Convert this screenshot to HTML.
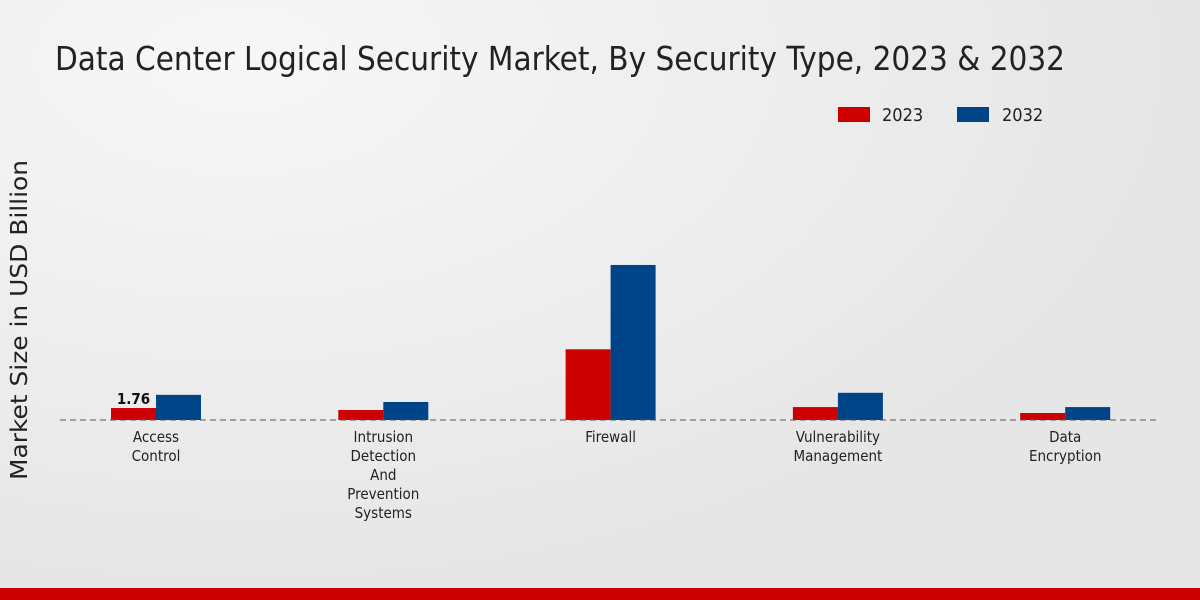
<!DOCTYPE html>
<html><head><meta charset="utf-8"><style>
body{margin:0;width:1200px;height:600px;overflow:hidden;background:radial-gradient(ellipse at 20% 10%,#f7f7f7,#e6e6e6 70%);font-family:"DejaVu Sans Condensed","DejaVu Sans","Liberation Sans",sans-serif;}
svg{position:absolute;left:0;top:0}
</style></head><body>
<svg width="1200" height="600">
<text x="55" y="70" font-size="33" textLength="1010" lengthAdjust="spacingAndGlyphs" fill="#222">Data Center Logical Security Market, By Security Type, 2023 &amp; 2032</text>
<text transform="translate(27,320) rotate(-90)" text-anchor="middle" font-size="23" textLength="320" lengthAdjust="spacingAndGlyphs" fill="#222" style="font-family:'DejaVu Sans',sans-serif">Market Size in USD Billion</text>
<g>
<rect x="838" y="107" width="32" height="15" fill="#cc0000"/>
<text x="882" y="121" font-size="18" fill="#222">2023</text>
<rect x="957" y="107" width="32" height="15" fill="#004488"/>
<text x="1002" y="121" font-size="18" fill="#222">2032</text>
</g>
<g id="plot"></g>
<line x1="60" y1="420" x2="1160" y2="420" stroke="#555" stroke-dasharray="6,4"/>
<rect x="0" y="588" width="1200" height="12" fill="#cc0000"/>
</svg>
<script>
const categories=[["Access","Control"],["Intrusion","Detection","And","Prevention","Systems"],["Firewall"],["Vulnerability","Management"],["Data","Encryption"]];
const values2023=[1.76,1.47,10.4,1.9,1.03];
const values2032=[3.7,2.65,22.8,4.0,1.9];
const baseY=420,pxPer=6.8,x0=156,step=227.3,bw=45;
const y=v=>baseY-v*pxPer;
const g=document.getElementById('plot');
const NS='http://www.w3.org/2000/svg';
categories.forEach((c,i)=>{
  const cx=x0+i*step;
  [[values2023,'#cc0000',-bw,'2023'],[values2032,'#004488',0,'2032']].forEach(([arr,col,off,yr])=>{
    const r=document.createElementNS(NS,'rect');
    r.setAttribute('x',cx+off);r.setAttribute('y',y(arr[i]));
    r.setAttribute('width',bw);r.setAttribute('height',baseY-y(arr[i]));
    r.setAttribute('fill',col);
    
    
    g.appendChild(r);
  });
  c.forEach((l,j)=>{
    const t=document.createElementNS(NS,'text');
    t.setAttribute('x',cx);t.setAttribute('y',442+j*19);
    t.setAttribute('text-anchor','middle');t.setAttribute('font-size','15');t.setAttribute('fill','#222');
    t.textContent=l;
    
    
    g.appendChild(t);
  });
});
const lab=document.createElementNS(NS,'text');
lab.setAttribute('x',x0-bw/2);lab.setAttribute('y',y(values2023[0])-4);
lab.setAttribute('text-anchor','middle');lab.setAttribute('font-size','15');lab.setAttribute('font-weight','bold');lab.setAttribute('fill','#111');
lab.textContent=values2023[0].toFixed(2);


g.appendChild(lab);
</script>
</body></html>
